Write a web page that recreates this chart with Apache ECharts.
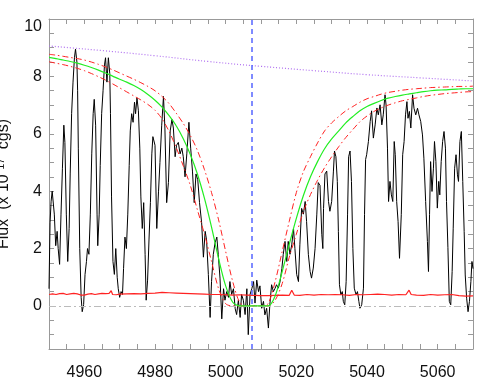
<!DOCTYPE html>
<html>
<head>
<meta charset="utf-8">
<script src="https://cdn.jsdelivr.net/npm/echarts@6/dist/echarts.min.js"></script>
<style>
html, body { margin: 0; padding: 0; background: #fff; }
#chartmain { width: 498px; height: 388px; }
</style>
</head>
<body>
<div id="chartmain"></div>
<script>
// observed spectrum (wavelength, flux)
var specWave = [
    4950.0, 4950.3, 4950.6, 4950.9, 4951.5, 4951.9, 4952.3, 4952.6, 4953.0, 4953.4,
    4953.8, 4954.2, 4954.5, 4954.9, 4955.3, 4955.7, 4956.0, 4956.4, 4956.8, 4957.2,
    4957.5, 4957.9, 4958.1, 4958.3, 4958.7, 4959.1, 4959.4, 4959.8, 4960.2, 4960.6,
    4960.9, 4961.3, 4961.7, 4962.1, 4962.5, 4962.8, 4963.2, 4963.6, 4963.8, 4964.2,
    4964.5, 4964.9, 4965.3, 4965.7, 4966.0, 4966.4, 4966.8, 4967.2, 4967.4, 4967.7,
    4968.1, 4968.5, 4968.9, 4969.3, 4969.6, 4970.0, 4970.4, 4970.8, 4971.1, 4971.5,
    4971.9, 4972.3, 4972.7, 4973.0, 4973.4, 4973.8, 4974.2, 4974.5, 4974.9, 4975.3,
    4975.7, 4976.0, 4976.4, 4976.8, 4977.2, 4977.5, 4977.9, 4978.3, 4978.7, 4979.1,
    4979.4, 4980.0, 4980.5, 4981.0, 4981.4, 4981.9, 4982.4, 4982.8, 4983.3, 4983.8,
    4984.3, 4984.8, 4985.2, 4985.7, 4986.1, 4986.6, 4987.1, 4987.6, 4988.0, 4988.5,
    4989.0, 4989.6, 4990.1, 4990.6, 4991.1, 4991.6, 4992.1, 4992.6, 4993.2, 4993.7,
    4994.2, 4994.6, 4995.1, 4995.6, 4996.0, 4996.5, 4997.0, 4997.5, 4997.9, 4998.4,
    4998.9, 4999.4, 4999.8, 5000.3, 5000.8, 5001.2, 5001.7, 5002.2, 5002.7, 5003.1,
    5003.6, 5004.1, 5004.5, 5005.0, 5005.5, 5006.0, 5006.4, 5006.9, 5007.4, 5007.9,
    5008.3, 5008.8, 5009.3, 5009.7, 5010.2, 5010.7, 5011.1, 5011.6, 5012.1, 5012.5,
    5013.0, 5013.5, 5014.0, 5014.4, 5014.9, 5015.4, 5015.9, 5016.3, 5016.8, 5017.3,
    5017.7, 5018.2, 5018.7, 5019.2, 5019.6, 5020.1, 5020.6, 5021.0, 5021.5, 5022.0,
    5022.5, 5022.9, 5023.4, 5023.9, 5024.3, 5024.8, 5025.3, 5025.8, 5026.2, 5026.7,
    5027.2, 5027.5, 5027.7, 5028.1, 5028.6, 5029.1, 5029.5, 5030.0, 5030.5, 5030.8,
    5031.2, 5031.6, 5031.9, 5032.2, 5032.6, 5033.0, 5033.3, 5033.7, 5034.1, 5034.5,
    5034.8, 5035.2, 5035.6, 5036.0, 5036.4, 5036.9, 5037.3, 5037.7, 5038.0, 5038.5,
    5039.0, 5039.3, 5039.6, 5039.9, 5040.4, 5040.9, 5041.3, 5041.8, 5042.3, 5042.8,
    5043.2, 5043.7, 5044.2, 5044.6, 5045.1, 5045.4, 5045.8, 5046.1, 5046.5, 5046.9,
    5047.3, 5047.7, 5048.0, 5048.4, 5048.8, 5049.2, 5049.7, 5050.1, 5050.5, 5050.9,
    5051.3, 5051.6, 5052.0, 5052.4, 5052.9, 5053.3, 5053.8, 5054.3, 5054.7, 5055.2,
    5055.7, 5056.1, 5056.6, 5057.1, 5057.4, 5057.7, 5058.0, 5058.4, 5058.8, 5059.1,
    5059.5, 5059.9, 5060.3, 5060.6, 5061.0, 5061.4, 5061.8, 5062.2, 5062.5, 5062.9,
    5063.3, 5063.7, 5064.1, 5064.4, 5064.8, 5065.2, 5065.6, 5065.9, 5066.3, 5066.7,
    5067.1, 5067.5, 5067.8, 5068.2, 5068.6, 5069.0, 5069.4, 5069.7, 5070.0
];
var specFlux = [
    0.6, 2.9, 3.65, 4.0, 3.2, 2.1, 2.6, 2.0, 1.45, 3.2,
    4.8, 6.3, 5.7, 3.2, 1.55, 2.7, 4.6, 6.7, 7.8, 8.65,
    8.95, 8.5, 7.5, 5.5, 2.0, 0.3, -0.2, 0.05, 1.1, 1.55,
    2.0, 1.8, 3.2, 5.3, 6.7, 7.2, 6.3, 3.2, 2.1, 3.2,
    4.9, 6.7, 7.5, 8.4, 8.65, 7.8, 8.65, 8.1, 6.7, 3.8,
    1.55, 1.1, 2.0, 1.0, 0.6, 0.3, 0.5, 0.4, 1.3, 2.4,
    2.0, 3.2, 4.9, 6.1, 6.7, 6.4, 7.1, 6.7, 7.25, 6.8,
    5.5, 3.8, 2.7, 3.6, 1.8, 0.2, 0.9, 2.3, 3.6, 5.3,
    5.9, 5.6, 2.7, 4.0, 5.0, 6.3, 7.3, 6.2, 3.6, 4.3,
    6.1, 6.5, 6.2, 5.2, 5.6, 5.7, 5.3, 5.5, 5.2, 4.5,
    5.3, 6.4, 5.5, 4.7, 3.6, 4.6, 4.4, 3.6, 2.9, 1.7,
    2.6, 2.3, 1.1, -0.4, 0.85, 1.8, 2.2, 2.4, 1.8, 0.97,
    -0.45, 0.6, 0.2, 0.5, 0.3, 0.85, 0.4, 0.6, -0.1, -0.3,
    0.2, -0.4, 0.4, 0.2, -0.3, 0.6, -1.0, 0.4, 0.6, 0.85,
    0.1, 0.9, 0.5, 0.7, -0.08, 0.16, -0.31, -0.08, -0.77, 0.04,
    0.74, 0.5, 0.62, 0.74, 0.62, 0.85, 1.3, 1.8, 2.25, 1.55,
    2.25, 1.8, 2.13, 2.7, 2.0, 1.1, 0.85, 2.13, 3.4, 3.2,
    3.64, 2.94, 1.8, 1.2, 0.97, 1.32, 2.0, 3.2, 4.3, 4.2,
    2.5, 2.0, 3.4, 4.6, 4.7, 3.64, 3.3, 3.64, 4.7, 5.4,
    5.2, 4.34, 2.6, 0.74, 0.39, 0.5, 0.16, 0.04, 0.85, 3.2,
    5.2, 5.4, 4.34, 2.0, 0.62, 0.39, 0.5, 0.16, -0.08, 0.04,
    0.62, 3.18, 5.1, 5.27, 5.73, 6.43, 6.8, 5.85, 6.31, 6.9,
    6.66, 7.01, 6.31, 6.66, 7.36, 7.0, 5.5, 3.64, 4.34, 3.87,
    3.64, 5.73, 5.27, 3.64, 2.94, 1.66, 3.18, 5.27, 5.73, 6.66,
    7.12, 6.54, 6.78, 6.2, 7.36, 6.89, 6.66, 6.89, 6.66, 6.43,
    5.96, 5.15, 3.64, 2.25, 1.2, 3.18, 5.03, 3.99, 4.8, 5.73,
    5.03, 3.41, 4.34, 3.87, 5.03, 5.73, 6.08, 5.5, 3.64, 2.03,
    0.16, 0.04, 1.2, 2.71, 4.8, 5.27, 4.57, 4.34, 5.73, 6.08,
    4.34, 2.6, 1.08, 0.27, -0.2, 0.16, 0.85, 1.55, 1.3
];

// error spectrum
var errWave = [
    4950, 4951, 4952, 4953, 4954, 4955, 4956, 4957, 4958, 4959,
    4960, 4961, 4962, 4963, 4964, 4965, 4966, 4967, 4967.6, 4968,
    4969, 4970, 4972, 4974, 4976, 4978, 4980, 4982, 4984, 4986,
    4988, 4990, 4992, 4994, 4996, 4998, 5000, 5002, 5004, 5006,
    5008, 5010, 5012, 5014, 5016, 5018, 5018.7, 5019.4, 5021, 5023,
    5025, 5027, 5029, 5031, 5033, 5035, 5037, 5039, 5041, 5043,
    5045, 5047, 5049, 5051, 5051.9, 5052.5, 5054, 5056, 5058, 5060,
    5062, 5064, 5066, 5068, 5070
];
var errFlux = [
    0.40, 0.42, 0.40, 0.43, 0.44, 0.40, 0.42, 0.44, 0.42, 0.38,
    0.38, 0.41, 0.43, 0.40, 0.42, 0.44, 0.43, 0.44, 0.53, 0.40,
    0.39, 0.41, 0.42, 0.43, 0.42, 0.44, 0.45, 0.47, 0.46, 0.45,
    0.44, 0.43, 0.42, 0.41, 0.40, 0.40, 0.39, 0.38, 0.39, 0.38,
    0.37, 0.36, 0.36, 0.37, 0.38, 0.37, 0.55, 0.38, 0.37, 0.40,
    0.38, 0.40, 0.39, 0.40, 0.39, 0.37, 0.40, 0.39, 0.40, 0.41,
    0.40, 0.38, 0.40, 0.39, 0.55, 0.40, 0.38, 0.37, 0.40, 0.38,
    0.39, 0.40, 0.36, 0.34, 0.35
];

// continuum
var contWave = [4950, 4965, 4980, 4995, 5010, 5025, 5040, 5055, 5070];
var contFlux = [9.06, 8.90, 8.72, 8.52, 8.35, 8.20, 8.06, 7.95, 7.84];

// damped profile fit and its upper / lower bounds, every 2 A
var modelWave = [
    4950, 4952, 4954, 4956, 4958, 4960, 4962, 4964, 4966, 4968,
    4970, 4972, 4974, 4976, 4978, 4980, 4982, 4984, 4986, 4988,
    4990, 4992, 4994, 4996, 4998, 5000, 5002, 5004, 5006, 5008,
    5010, 5012, 5014, 5016, 5018, 5020, 5022, 5024, 5026, 5028,
    5030, 5032, 5034, 5036, 5038, 5040, 5042, 5044, 5046, 5048,
    5050, 5052, 5054, 5056, 5058, 5060, 5062, 5064, 5066, 5068, 5070
];
var fitFlux = [
    8.66, 8.62, 8.57, 8.52, 8.46, 8.39, 8.31, 8.22, 8.12, 8.01,
    7.90, 7.80, 7.68, 7.54, 7.37, 7.17, 6.93, 6.63, 6.28, 5.83,
    5.28, 4.60, 3.75, 2.75, 1.65, 0.70, 0.13, 0.0, 0.0, 0.0,
    0.0, 0.0, 0.35, 1.20, 2.15, 3.05, 3.85, 4.50, 5.03, 5.48,
    5.82, 6.10, 6.38, 6.60, 6.80, 6.95, 7.06, 7.16, 7.24, 7.30,
    7.35, 7.39, 7.43, 7.47, 7.50, 7.52, 7.53, 7.55, 7.56, 7.57, 7.57
];
var fitUpper = [
    8.77, 8.74, 8.70, 8.66, 8.62, 8.57, 8.50, 8.42, 8.33, 8.23,
    8.12, 8.01, 7.90, 7.78, 7.65, 7.50, 7.30, 7.05, 6.72, 6.36,
    5.94, 5.42, 4.75, 3.95, 3.00, 1.90, 0.85, 0.12, 0.0, 0.0,
    0.0, 0.08, 0.85, 1.90, 2.95, 3.95, 4.68, 5.20, 5.68, 6.10,
    6.38, 6.60, 6.80, 6.95, 7.10, 7.22, 7.30, 7.38, 7.44, 7.48,
    7.52, 7.55, 7.57, 7.59, 7.61, 7.62, 7.63, 7.64, 7.65, 7.65, 7.66
];
var fitLower = [
    8.51, 8.46, 8.41, 8.35, 8.28, 8.20, 8.10, 7.99, 7.87, 7.74,
    7.60, 7.46, 7.32, 7.18, 7.02, 6.82, 6.52, 6.08, 5.52, 4.88,
    4.20, 3.35, 2.50, 1.55, 0.60, 0.08, 0.0, 0.0, 0.0, 0.0,
    0.0, 0.0, 0.20, 0.78, 1.70, 2.50, 3.29, 3.88, 4.38, 4.82,
    5.20, 5.55, 5.87, 6.15, 6.42, 6.62, 6.78, 6.90, 7.00, 7.08,
    7.15, 7.20, 7.25, 7.30, 7.34, 7.37, 7.40, 7.42, 7.44, 7.46, 7.47
];

var lineCenter = 5007.5;
var zeroLevel = 0;
var xTickLabels = [4960, 4980, 5000, 5020, 5040, 5060];
var yTickLabels = [0, 2, 4, 6, 8, 10];

function pairs(xs, ys) {
    var out = [];
    for (var i = 0; i < xs.length; i++) out.push([xs[i], ys[i]]);
    return out;
}

var frameColor = '#999999';
var font = "'Liberation Sans', Arial, sans-serif";

function xAxisOf(pos, labels) {
    return {
        type: 'value', position: pos, min: 4950, max: 5070, interval: 5,
        axisLine: { show: true, onZero: false, lineStyle: { color: frameColor, width: 1 } },
        axisTick: { show: true, inside: true, length: 5, lineStyle: { color: frameColor } },
        splitLine: { show: false },
        axisLabel: {
            show: labels, margin: 16, fontSize: 16, color: '#111', fontFamily: font,
            formatter: function(v) { return xTickLabels.indexOf(v) >= 0 ? String(v) : ''; }
        }
    };
}
function yAxisOf(pos, labels) {
    var ax = {
        type: 'value', position: pos, min: -1.5, max: 10, interval: 0.5,
        axisLine: { show: true, onZero: false, lineStyle: { color: frameColor, width: 1 } },
        axisTick: { show: true, inside: true, length: 5, lineStyle: { color: frameColor } },
        splitLine: { show: false },
        axisLabel: {
            show: labels, margin: 7, fontSize: 16, color: '#111', fontFamily: font,
            formatter: function(v) {
                if (v === 10) return '{top|10}';
                return yTickLabels.indexOf(v) >= 0 ? String(v) : '';
            },
            rich: { top: { fontSize: 16, fontFamily: font, color: '#111', padding: [16, 0, 0, 0] } }
        }
    };
    if (labels) {
        ax.name = 'Flux  (x 10\u207B\u00B9\u2077  cgs)';
        ax.nameLocation = 'middle';
        ax.nameRotate = 90;
        ax.nameGap = 37;
        ax.nameTextStyle = { fontSize: 16, color: '#111', fontFamily: font };
    }
    return ax;
}

var option = {
    animation: false,
    backgroundColor: '#ffffff',
    grid: { left: 49, right: 25, top: 19, bottom: 39, containLabel: false, outerBoundsMode: 'none' },
    xAxis: [xAxisOf('bottom', true), xAxisOf('top', false)],
    yAxis: [yAxisOf('left', true), yAxisOf('right', false)],
    series: [
        {
            type: 'line', data: pairs(specWave, specFlux), showSymbol: false,
            lineStyle: { color: '#000000', width: 1 }, z: 2,
            markLine: {
                silent: true, symbol: ['none', 'none'], label: { show: false },
                data: [
                    { yAxis: zeroLevel, lineStyle: { color: '#bbbbbb', width: 1, type: [7, 3, 2, 3] } },
                    { xAxis: lineCenter, lineStyle: { color: '#5566ff', width: 1.5, type: [5, 4] } }
                ]
            }
        },
        {
            type: 'line', data: pairs(errWave, errFlux), showSymbol: false,
            lineStyle: { color: '#ff2222', width: 1.2 }, z: 3
        },
        {
            type: 'line', data: pairs(contWave, contFlux), showSymbol: false, smooth: true,
            lineStyle: { color: '#b070f0', width: 1.2, type: [1, 2] }, z: 3
        },
        {
            type: 'line', data: pairs(modelWave, fitUpper), showSymbol: false, smooth: 0.3,
            lineStyle: { color: '#ff2222', width: 1, type: [6, 3, 1.5, 3] }, z: 4
        },
        {
            type: 'line', data: pairs(modelWave, fitLower), showSymbol: false, smooth: 0.3,
            lineStyle: { color: '#ff2222', width: 1, type: [6, 3, 1.5, 3] }, z: 4
        },
        {
            type: 'line', data: pairs(modelWave, fitFlux), showSymbol: false, smooth: 0.3,
            lineStyle: { color: '#22ee22', width: 1.2 }, z: 5
        }
    ]
};

var myChart = echarts.init(document.getElementById('chartmain'));
myChart.setOption(option);
</script>
</body>
</html>
